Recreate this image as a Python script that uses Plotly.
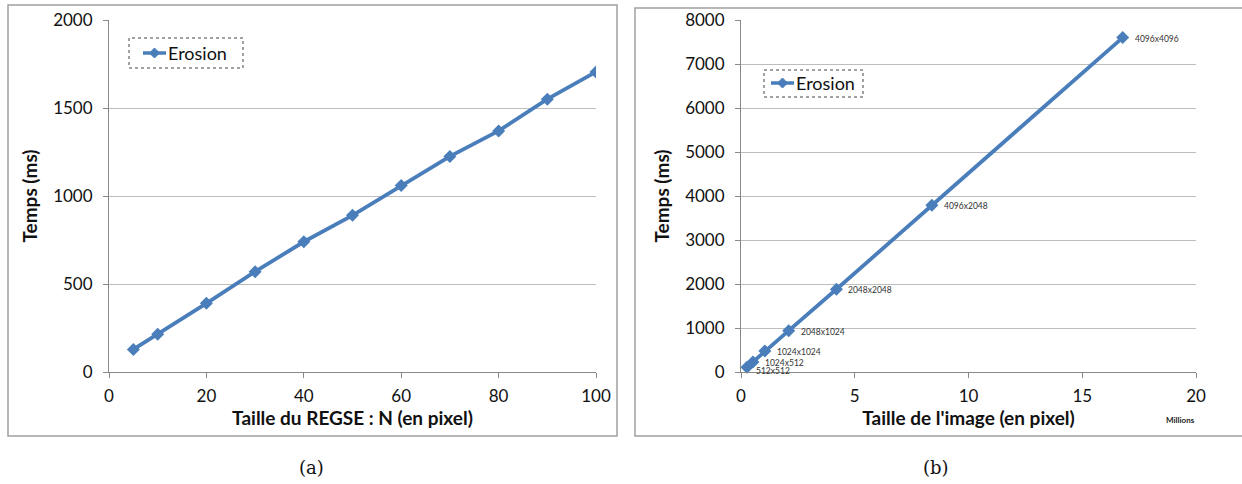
import plotly.graph_objects as go

# ---- data ----
regse_n = [5, 10, 20, 30, 40, 50, 60, 70, 80, 90, 100]
regse_time = [128, 215, 390, 570, 740, 890, 1060, 1225, 1370, 1550, 1705]

image_labels = ["512x512", "1024x512", "1024x1024", "2048x1024", "2048x2048", "4096x2048", "4096x4096"]
image_millions = [0.262, 0.524, 1.049, 2.097, 4.194, 8.389, 16.777]
image_time = [110, 230, 480, 940, 1880, 3790, 7600]

left_ticks_y = [0, 500, 1000, 1500, 2000]
left_ticks_x = [0, 20, 40, 60, 80, 100]
right_ticks_y = [0, 1000, 2000, 3000, 4000, 5000, 6000, 7000, 8000]
right_ticks_x = [0, 5, 10, 15, 20]

W, H = 1242, 484
BLUE = "#4A7EBB"
GRID = "#BDBDBD"
AX = "#888888"
FONT = "Lato"


def fx(px):
    return px / W


def fy(py):
    return 1 - py / H


fig = go.Figure()

fig.add_trace(go.Scatter(
    x=regse_n, y=regse_time, mode="lines+markers", name="Erosion",
    line=dict(color=BLUE, width=3.8),
    marker=dict(symbol="diamond", size=10, color=BLUE),
    xaxis="x", yaxis="y", showlegend=False,
))
fig.add_trace(go.Scatter(
    x=image_millions, y=image_time, mode="lines+markers", name="Erosion",
    line=dict(color=BLUE, width=3.8),
    marker=dict(symbol="diamond", size=10, color=BLUE),
    xaxis="x2", yaxis="y2", showlegend=False, cliponaxis=False,
))

axis_common = dict(
    showline=True, linecolor=AX, linewidth=1, ticks="outside", ticklen=5,
    tickcolor=AX, tickfont=dict(family=FONT, size=17, color="#111111"),
    zeroline=False, fixedrange=True, automargin=False,
)
title_font = dict(family=FONT, size=19, color="#111111")

fig.update_layout(
    width=W, height=H, margin=dict(l=0, r=0, t=0, b=0),
    paper_bgcolor="white", plot_bgcolor="white", showlegend=False,
    xaxis=dict(domain=[fx(109), fx(596)], range=[0, 100], tickvals=left_ticks_x,
               showgrid=False, anchor="y", ticklabelstandoff=4,
               title=dict(text="<b>Taille du REGSE : N (en pixel)</b>", font=title_font, standoff=4),
               **axis_common),
    yaxis=dict(domain=[fy(372), fy(20)], range=[0, 2000], tickvals=left_ticks_y,
               showgrid=True, gridcolor=GRID, gridwidth=1, anchor="x", ticklabelstandoff=7,
               title=dict(text="<b>Temps (ms)</b>", font=title_font, standoff=10),
               **axis_common),
    xaxis2=dict(domain=[fx(741), fx(1196)], range=[0, 20], tickvals=right_ticks_x,
                showgrid=False, anchor="y2", ticklabelstandoff=4,
                title=dict(text="<b>Taille de l'image (en pixel)</b>", font=title_font, standoff=4),
                **axis_common),
    yaxis2=dict(domain=[fy(372), fy(20)], range=[0, 8000], tickvals=right_ticks_y,
                showgrid=True, gridcolor=GRID, gridwidth=1, anchor="x2", ticklabelstandoff=7,
                title=dict(text="<b>Temps (ms)</b>", font=title_font, standoff=10),
                **axis_common),
)


def diamond(cx, cy, r=5):
    return dict(type="path", xref="paper", yref="paper", xsizemode="pixel", ysizemode="pixel",
                xanchor=fx(cx), yanchor=fy(cy),
                path=f"M 0 {r} L {r} 0 L 0 {-r} L {-r} 0 Z",
                fillcolor=BLUE, line=dict(color=BLUE, width=1))


shapes = [
    # panel frames
    dict(type="rect", xref="paper", yref="paper", x0=fx(8), x1=fx(617), y0=fy(436), y1=fy(5),
         line=dict(color="#A0A0A0", width=1.5)),
    dict(type="rect", xref="paper", yref="paper", x0=fx(635), x1=fx(1245), y0=fy(436), y1=fy(8),
         line=dict(color="#A0A0A0", width=1.5)),
    # legend boxes
    dict(type="rect", xref="paper", yref="paper", x0=fx(129), x1=fx(243), y0=fy(68), y1=fy(38),
         line=dict(color="#444444", width=1, dash="dot")),
    dict(type="rect", xref="paper", yref="paper", x0=fx(764), x1=fx(863), y0=fy(97), y1=fy(70),
         line=dict(color="#444444", width=1, dash="dot")),
    # legend line samples
    dict(type="line", xref="paper", yref="paper", x0=fx(143), x1=fx(166), y0=fy(53), y1=fy(53),
         line=dict(color=BLUE, width=3.5)),
    dict(type="line", xref="paper", yref="paper", x0=fx(771), x1=fx(794), y0=fy(83), y1=fy(83),
         line=dict(color=BLUE, width=3.5)),
    diamond(154.5, 53),
    diamond(782.5, 83),
]
fig.update_layout(shapes=shapes)

annotations = [
    dict(text="Erosion", x=fx(166), y=fy(53), xref="paper", yref="paper", xanchor="left",
         yanchor="middle", showarrow=False, font=dict(family=FONT, size=18, color="#111111")),
    dict(text="Erosion", x=fx(794), y=fy(83), xref="paper", yref="paper", xanchor="left",
         yanchor="middle", showarrow=False, font=dict(family=FONT, size=18, color="#111111")),
    dict(text="<b>Millions</b>", x=fx(1180), y=fy(420), xref="paper", yref="paper",
         xanchor="center", yanchor="middle", showarrow=False,
         font=dict(family=FONT, size=8, color="#222222")),
    dict(text="(a)", x=fx(311), y=fy(467), xref="paper", yref="paper", xanchor="center",
         yanchor="middle", showarrow=False,
         font=dict(family="DejaVu Serif", size=18, color="#111111")),
    dict(text="(b)", x=fx(936), y=fy(467), xref="paper", yref="paper", xanchor="center",
         yanchor="middle", showarrow=False,
         font=dict(family="DejaVu Serif", size=18, color="#111111")),
]
# data labels for the image sizes
for i, (lab, xv, yv) in enumerate(zip(image_labels, image_millions, image_time)):
    annotations.append(dict(
        text=lab, x=xv, y=yv, xref="x2", yref="y2", xanchor="left", yanchor="middle",
        xshift=7 if i == 0 else 10, yshift=-4 if i == 0 else -1, showarrow=False,
        font=dict(family=FONT, size=8.5, color="#333333"),
    ))
fig.update_layout(annotations=annotations)

fig.write_html("out.html", config={"displayModeBar": False},
               post_script="document.body.style.margin='0px';")
